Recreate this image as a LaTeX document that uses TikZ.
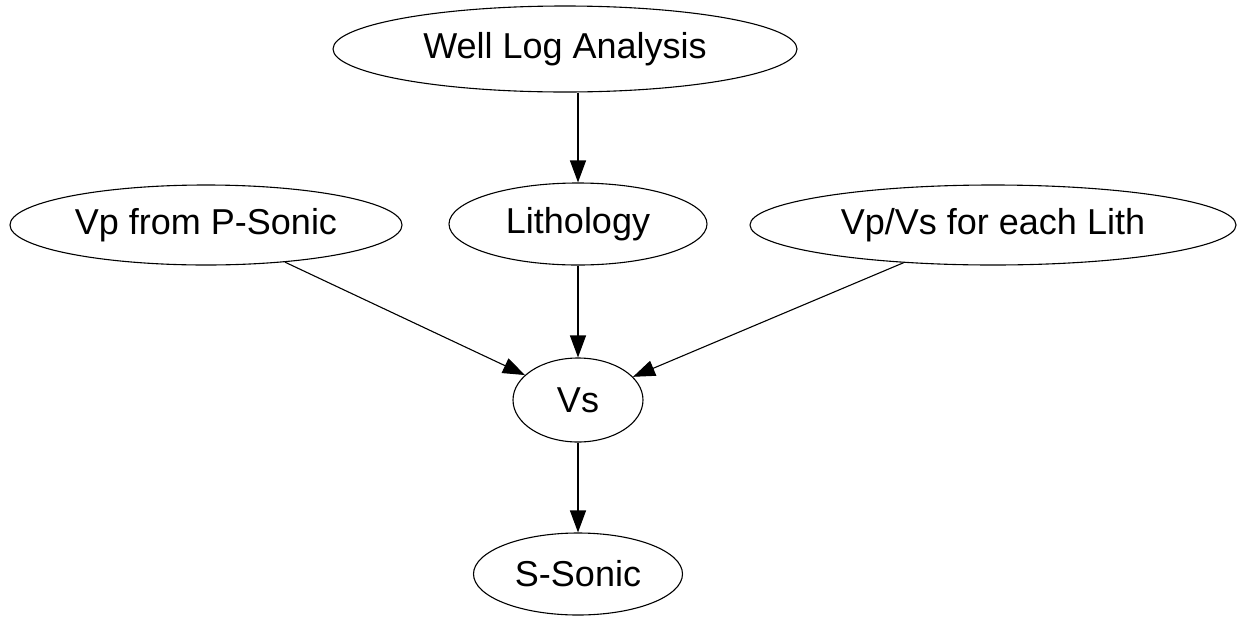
\documentclass[tikz,border=0pt]{standalone}
\usepackage{fontspec}
\setmainfont{Liberation Sans}
\usetikzlibrary{shapes.geometric,arrows.meta}
\begin{document}
\begin{tikzpicture}[x=1pt,y=-1pt,
  oval/.style={ellipse,draw=black,line width=1.1pt,inner sep=0pt,font=\fontsize{36}{42}\selectfont},
  link/.style={draw=black,line width=1.1pt,-{Triangle[length=22pt,width=16pt]}}]
\useasboundingbox (0,0) rectangle (1243,619);
\node[oval,minimum width=464pt,minimum height=86pt] (wla) at (565,49) {Well Log Analysis};
\node[oval,minimum width=392pt,minimum height=80pt] (vp) at (206,225) {Vp from P-Sonic};
\node[oval,minimum width=258pt,minimum height=82pt] (lith) at (578,224) {Lithology};
\node[oval,minimum width=486pt,minimum height=80pt] (vpvs) at (993,225) {Vp/Vs for each Lith};
\node[oval,minimum width=130pt,minimum height=84pt] (vs) at (578,400) {Vs};
\node[oval,minimum width=209pt,minimum height=82pt] (ss) at (578,574) {S-Sonic};
\draw[link] (wla.south -| lith.north) -- (lith.north);
\draw[link] (vp) -- (vs);
\draw[link] (lith) -- (vs);
\draw[link] (vpvs) -- (vs);
\draw[link] (vs) -- (ss);
\end{tikzpicture}
\end{document}
